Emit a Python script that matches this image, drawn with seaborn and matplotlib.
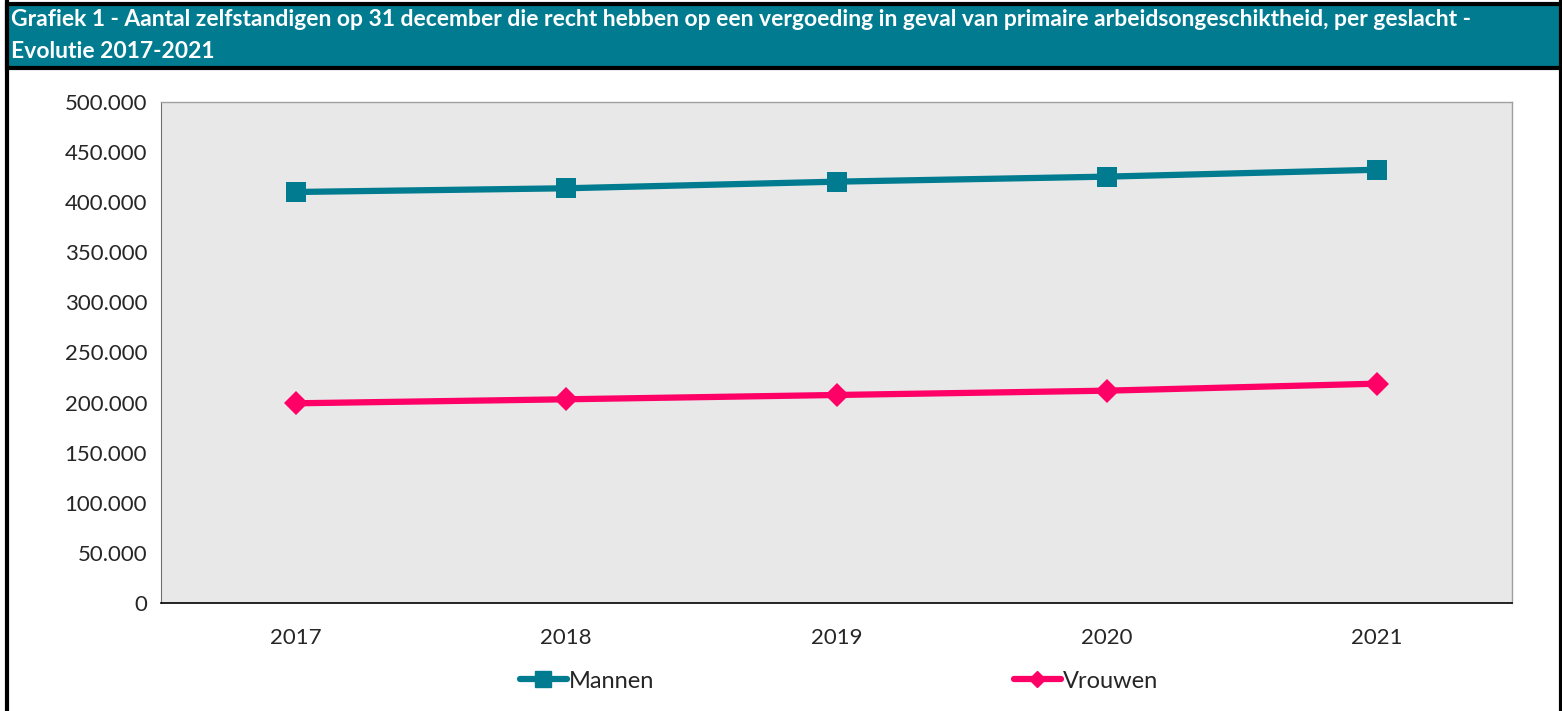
import pandas as pd
import matplotlib.pyplot as plt
import seaborn as sns
from matplotlib.patches import Rectangle
from matplotlib.ticker import FuncFormatter, FixedLocator

# data
years = ["2017", "2018", "2019", "2020", "2021"]
mannen = [410200, 413900, 420500, 425500, 432400]
vrouwen = [199300, 203300, 207600, 211900, 218900]

df = pd.DataFrame({
    "jaar": years * 2,
    "aantal": mannen + vrouwen,
    "geslacht": ["Mannen"] * 5 + ["Vrouwen"] * 5,
})

sns.set_style("white")
plt.rcParams["font.family"] = ["Lato", "DejaVu Sans"]

teal = "#007B8F"
pink = "#FF0066"

fig = plt.figure(figsize=(15.62, 7.11), dpi=100)
W, H = 1562, 711

# outer frame + title bar
fig.patches.append(Rectangle((7 / W, -0.05), (1561 - 7) / W, 1.1, transform=fig.transFigure,
                             facecolor="white", edgecolor="black", linewidth=3, zorder=0))
fig.patches.append(Rectangle((7 / W, 1 - 68 / H), (1561 - 7) / W, 64 / H, transform=fig.transFigure,
                             facecolor=teal, edgecolor="black", linewidth=3, zorder=1))
fig.text(11 / W, 1 - 20 / H,
         "Grafiek 1 - Aantal zelfstandigen op 31 december die recht hebben op een vergoeding in geval van primaire arbeidsongeschiktheid, per geslacht -",
         color="white", fontsize=16.5, fontweight="bold", va="center", ha="left", zorder=3)
fig.text(11 / W, 1 - 52 / H, "Evolutie 2017-2021",
         color="white", fontsize=16.5, fontweight="bold", va="center", ha="left", zorder=3)

ax = fig.add_axes([161 / W, 1 - 603 / H, (1512 - 161) / W, (603 - 102) / H])
ax.set_zorder(5)
ax.set_facecolor("#E8E8E8")

sns.lineplot(data=df, x="jaar", y="aantal", hue="geslacht", style="geslacht",
             markers={"Mannen": "s", "Vrouwen": "D"}, dashes=False,
             palette={"Mannen": teal, "Vrouwen": pink},
             linewidth=4.5, markersize=14.5, markeredgewidth=0, ax=ax, legend=False)
# diamonds a bit smaller than squares
ax.lines[1].set_markersize(12)

ax.set_xlim(-0.5, 4.5)
ax.set_ylim(0, 500000)
ax.set_yticks(range(0, 500001, 50000))
ax.yaxis.set_major_formatter(FuncFormatter(lambda v, p: f"{v:,.0f}".replace(",", ".")))
ax.xaxis.set_major_locator(FixedLocator([-0.5, 0.5, 1.5, 2.5, 3.5, 4.5]))
ax.xaxis.set_ticklabels([])
ax.set_xticks(range(5), years, minor=True)
ax.tick_params(axis="x", which="major", direction="out", length=6, width=1, color="#555555")
ax.tick_params(axis="x", which="minor", length=0, labelsize=16, pad=18)
ax.tick_params(axis="y", direction="out", length=6, width=1, color="#555555", labelsize=16, pad=4)
ax.set_xlabel("")
ax.set_ylabel("")

for side in ["top", "right"]:
    ax.spines[side].set_color("#A0A0A0")
    ax.spines[side].set_linewidth(1)
ax.spines["left"].set_color("#707070")
ax.spines["bottom"].set_color("black")
ax.spines["bottom"].set_linewidth(1.2)

handles = [
    plt.Line2D([], [], color=teal, marker="s", lw=4.5, markersize=11, solid_capstyle="round"),
    plt.Line2D([], [], color=pink, marker="D", lw=4.5, markersize=8, solid_capstyle="round"),
]
leg = fig.legend(handles, ["Mannen", "Vrouwen"], loc="center", bbox_to_anchor=(839 / W, 1 - 681 / H),
                 ncol=2, frameon=False, fontsize=17, handlelength=2.0, handletextpad=0.1,
                 columnspacing=15.2)
leg.set_zorder(6)

fig.savefig("out.png", dpi=100)
